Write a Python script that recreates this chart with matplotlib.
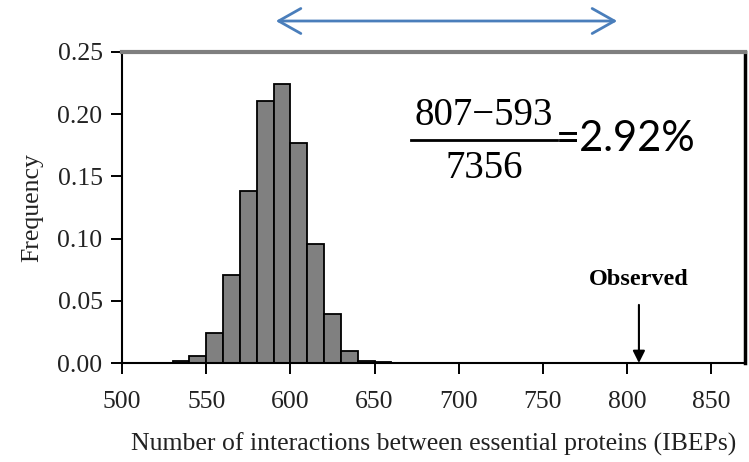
import matplotlib
matplotlib.use('Agg')
import matplotlib.pyplot as plt
import numpy as np

# histogram of simulated IBEP counts (bin left edges, width 10)
bin_left = [530, 540, 550, 560, 570, 580, 590, 600, 610, 620, 630, 640, 650]
freq = [0.0013, 0.006, 0.024, 0.071, 0.138, 0.211, 0.224, 0.177, 0.096, 0.039, 0.010, 0.002, 0.0005]
observed = 807
x_ticks = [500, 550, 600, 650, 700, 750, 800, 850]
y_ticks = [0.00, 0.05, 0.10, 0.15, 0.20, 0.25]

W, H = 749, 462
serif = 'Liberation Serif'

fig = plt.figure(figsize=(W / 100, H / 100), dpi=100)
ax = fig.add_axes([122 / W, 1 - 363 / H, (745 - 122) / W, (363 - 52) / H])

ax.bar(bin_left, freq, width=10, align='edge', color='#808080',
       edgecolor='black', linewidth=1.3, zorder=2)

ax.set_xlim(500, 870)
ax.set_ylim(0, 0.25)
ax.set_xticks(x_ticks)
ax.set_yticks(y_ticks)
ax.set_yticklabels([f'{v:.2f}' for v in y_ticks])
for lab in ax.get_xticklabels() + ax.get_yticklabels():
    lab.set_family(serif)
    lab.set_fontsize(18.5)
    lab.set_color('#222222')
ax.tick_params(axis='x', direction='out', length=8, width=1.4, pad=12)
ax.tick_params(axis='y', direction='out', length=8, width=1.4, pad=6)

ax.spines['left'].set_linewidth(1.5)
ax.spines['bottom'].set_linewidth(1.5)
ax.spines['top'].set_linewidth(3)
ax.spines['top'].set_color('#7f7f7f')
ax.spines['right'].set_linewidth(2.5)

ax.set_xlabel('Number of interactions between essential proteins (IBEPs)',
              family=serif, fontsize=18.5, color='#222222', labelpad=14)
ax.set_ylabel('Frequency', family=serif, fontsize=18.5, color='#222222', labelpad=10)

# observed value marker
ax.annotate('Observed', xy=(observed, 0.0), xytext=(observed, 0.063),
            ha='center', va='baseline', family=serif, fontsize=17.5, fontweight='bold',
            arrowprops=dict(arrowstyle='-|>', color='black', lw=1.5,
                            mutation_scale=18, shrinkA=9, shrinkB=0))

# blue double arrow above the plot
fig.patches.append(matplotlib.patches.FancyArrowPatch(
    (273 / W, 1 - 21 / H), (620 / W, 1 - 21 / H), transform=fig.transFigure,
    arrowstyle='<->,head_length=0.8,head_width=0.45', mutation_scale=20,
    color='#4a7ebb', lw=2))

# fraction annotation
fig.text(484 / W, 1 - 115 / H, '807\u2212593', family=serif, fontsize=28,
         ha='center', va='center')
fig.text(484 / W, 1 - 168 / H, '7356', family=serif, fontsize=28,
         ha='center', va='center')
fig.add_artist(plt.Line2D([411 / W, 557 / W], [1 - 140 / H, 1 - 140 / H],
                          transform=fig.transFigure, color='black', lw=2))
fig.text(556 / W, 1 - 139 / H, '=2.92%', family='Lato', fontsize=30,
         ha='left', va='center')

fig.savefig('out.png', dpi=100)
